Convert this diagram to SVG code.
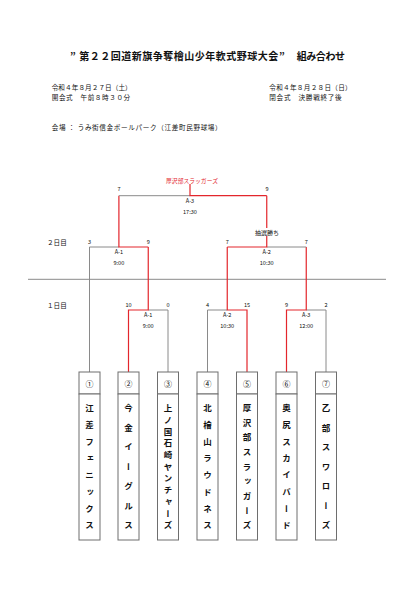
<svg xmlns="http://www.w3.org/2000/svg" width="416" height="589" viewBox="0 0 416 589">
<style>
text{font-family:"Noto Sans CJK JP","Noto Sans",sans-serif;fill:#111;dominant-baseline:central}
.t{font-size:10px;font-weight:700}
.h{font-size:6.6px}
.s{font-size:5.6px;text-anchor:middle}
.lab{font-size:5.6px;text-anchor:middle}
.win{font-size:5.8px;text-anchor:middle;fill:#e3262c}
.num{font-size:8px;text-anchor:middle}
.name{font-size:8.5px;font-weight:700;writing-mode:vertical-rl;text-anchor:start}
.g{stroke:#8a8a8a;stroke-width:1;fill:none}
.r{stroke:#e3262c;stroke-width:1.2;fill:none}
.box{fill:#fff;stroke:#6e6e6e;stroke-width:1}
</style>
<rect width="416" height="589" fill="#fff"/>
<g id="header">
<text class="t" x="70" y="55">”</text>
<text class="t" x="79.3" y="55" textLength="199" lengthAdjust="spacing">第２２回道新旗争奪檜山少年軟式野球大会</text>
<text class="t" x="279" y="55">”</text>
<text class="t" x="296.7" y="55" textLength="48.3" lengthAdjust="spacing">組み合わせ</text>
<text class="h" x="51.7" y="86.7" textLength="80" lengthAdjust="spacing">令和４年８月２７日（土）</text>
<text class="h" x="51.7" y="96.7" textLength="78.5" lengthAdjust="spacing">開会式　午前８時３０分</text>
<text class="h" x="269.3" y="86.7" textLength="82.4" lengthAdjust="spacing">令和４年８月２８日（日）</text>
<text class="h" x="269.3" y="96.7" textLength="72.4" lengthAdjust="spacing">閉会式　決勝戦終了後</text>
<text class="h" x="51.7" y="126.7" textLength="170" lengthAdjust="spacing">会場 ： うみ街信金ボールパーク（江差町民野球場）</text>
<text class="h" x="47" y="242">２日目</text>
<text class="h" x="47" y="305">１日目</text>
</g>
<g id="connectors">
<line class="g" x1="28" y1="279.3" x2="386" y2="279.3"/>
<!-- day 1 A-1 -->
<polyline class="g" points="148.25,310 168,310 168,372"/>
<polyline class="r" points="128.5,372 128.5,310 148.25,310 148.25,247"/>
<!-- day 1 A-2 -->
<polyline class="g" points="207.5,372 207.5,310 227.25,310"/>
<polyline class="r" points="247,372 247,310 227.25,310 227.25,247"/>
<!-- day 1 A-3 -->
<polyline class="g" points="306.25,310 326,310 326,372"/>
<polyline class="r" points="286.5,372 286.5,310 306.25,310 306.25,247"/>
<!-- day 2 A-1 -->
<polyline class="g" points="89.5,372 89.5,247 118.9,247"/>
<polyline class="r" points="148.25,247 118.9,247 118.9,195.7"/>
<!-- day 2 A-2 -->
<polyline class="g" points="266.75,247 306.25,247"/>
<polyline class="r" points="227.25,247 266.75,247 266.75,195.7"/>
<!-- final -->
<polyline class="g" points="118.9,195.7 190,195.7"/>
<polyline class="r" points="190,184 190,195.7 266.75,195.7"/>
</g>
<g id="labels">
<text class="win" x="192" y="180">厚沢部スラッガーズ</text>
<text class="s" x="119" y="189">7</text>
<text class="s" x="267" y="189">9</text>
<text class="lab" x="190" y="201">A-3</text>
<text class="lab" x="190" y="212">17:30</text>
<rect x="254" y="228" width="26" height="8" fill="#fff"/>
<text class="lab" x="267" y="232" style="font-size:6px">抽選勝ち</text>
<text class="s" x="89.5" y="242">3</text>
<text class="s" x="148.25" y="242">9</text>
<text class="s" x="227.25" y="242">7</text>
<text class="s" x="306.25" y="242">7</text>
<text class="lab" x="118.9" y="252">A-1</text>
<text class="lab" x="118.9" y="263">9:00</text>
<text class="lab" x="266.75" y="252">A-2</text>
<text class="lab" x="266.75" y="263">10:30</text>
<text class="s" x="128.5" y="305">10</text>
<text class="s" x="168" y="305">0</text>
<text class="s" x="207.5" y="305">4</text>
<text class="s" x="247" y="305">15</text>
<text class="s" x="286.5" y="305">9</text>
<text class="s" x="326" y="305">2</text>
<text class="lab" x="148.25" y="315">A-1</text>
<text class="lab" x="148.25" y="326">9:00</text>
<text class="lab" x="227.25" y="315">A-2</text>
<text class="lab" x="227.25" y="326">10:30</text>
<text class="lab" x="306.25" y="315">A-3</text>
<text class="lab" x="306.25" y="326">12:00</text>
</g>
<g id="team1">
<rect class="box" x="79" y="372" width="21" height="22"/><rect class="box" x="79" y="394" width="21" height="146"/>
<text class="num" x="89.5" y="383">①</text>
<text class="name" x="89.5" y="403.75 420.46 437.18 453.89 470.61 487.32 504.04 520.75">江差フェニックス</text>
</g>
<g id="team2">
<rect class="box" x="118" y="372" width="21" height="22"/><rect class="box" x="118" y="394" width="21" height="146"/>
<text class="num" x="128.5" y="383">②</text>
<text class="name" x="128.5" y="403.75 423.25 442.75 462.25 481.75 501.25 520.75">今金イーグルス</text>
</g>
<g id="team3">
<rect class="box" x="157.5" y="372" width="21" height="22"/><rect class="box" x="157.5" y="394" width="21" height="146"/>
<text class="num" x="168" y="383">③</text>
<text class="name" x="168" y="403.75 415.45 427.15 438.85 450.55 462.25 473.95 485.65 497.35 509.05 520.75">上ノ国石崎ヤンチャーズ</text>
</g>
<g id="team4">
<rect class="box" x="197" y="372" width="21" height="22"/><rect class="box" x="197" y="394" width="21" height="146"/>
<text class="num" x="207.5" y="383">④</text>
<text class="name" x="207.5" y="403.75 420.46 437.18 453.89 470.61 487.32 504.04 520.75">北檜山ラウドネス</text>
</g>
<g id="team5">
<rect class="box" x="236.5" y="372" width="21" height="22"/><rect class="box" x="236.5" y="394" width="21" height="146"/>
<text class="num" x="247" y="383">⑤</text>
<text class="name" x="247" y="403.75 418.38 433.0 447.63 462.25 476.88 491.5 506.13 520.75">厚沢部スラッガーズ</text>
</g>
<g id="team6">
<rect class="box" x="276" y="372" width="21" height="22"/><rect class="box" x="276" y="394" width="21" height="146"/>
<text class="num" x="286.5" y="383">⑥</text>
<text class="name" x="286.5" y="403.75 420.46 437.18 453.89 470.61 487.32 504.04 520.75">奥尻スカイバード</text>
</g>
<g id="team7">
<rect class="box" x="315.5" y="372" width="21" height="22"/><rect class="box" x="315.5" y="394" width="21" height="146"/>
<text class="num" x="326" y="383">⑦</text>
<text class="name" x="326" y="403.75 423.25 442.75 462.25 481.75 501.25 520.75">乙部スワローズ</text>
</g>
</svg>
